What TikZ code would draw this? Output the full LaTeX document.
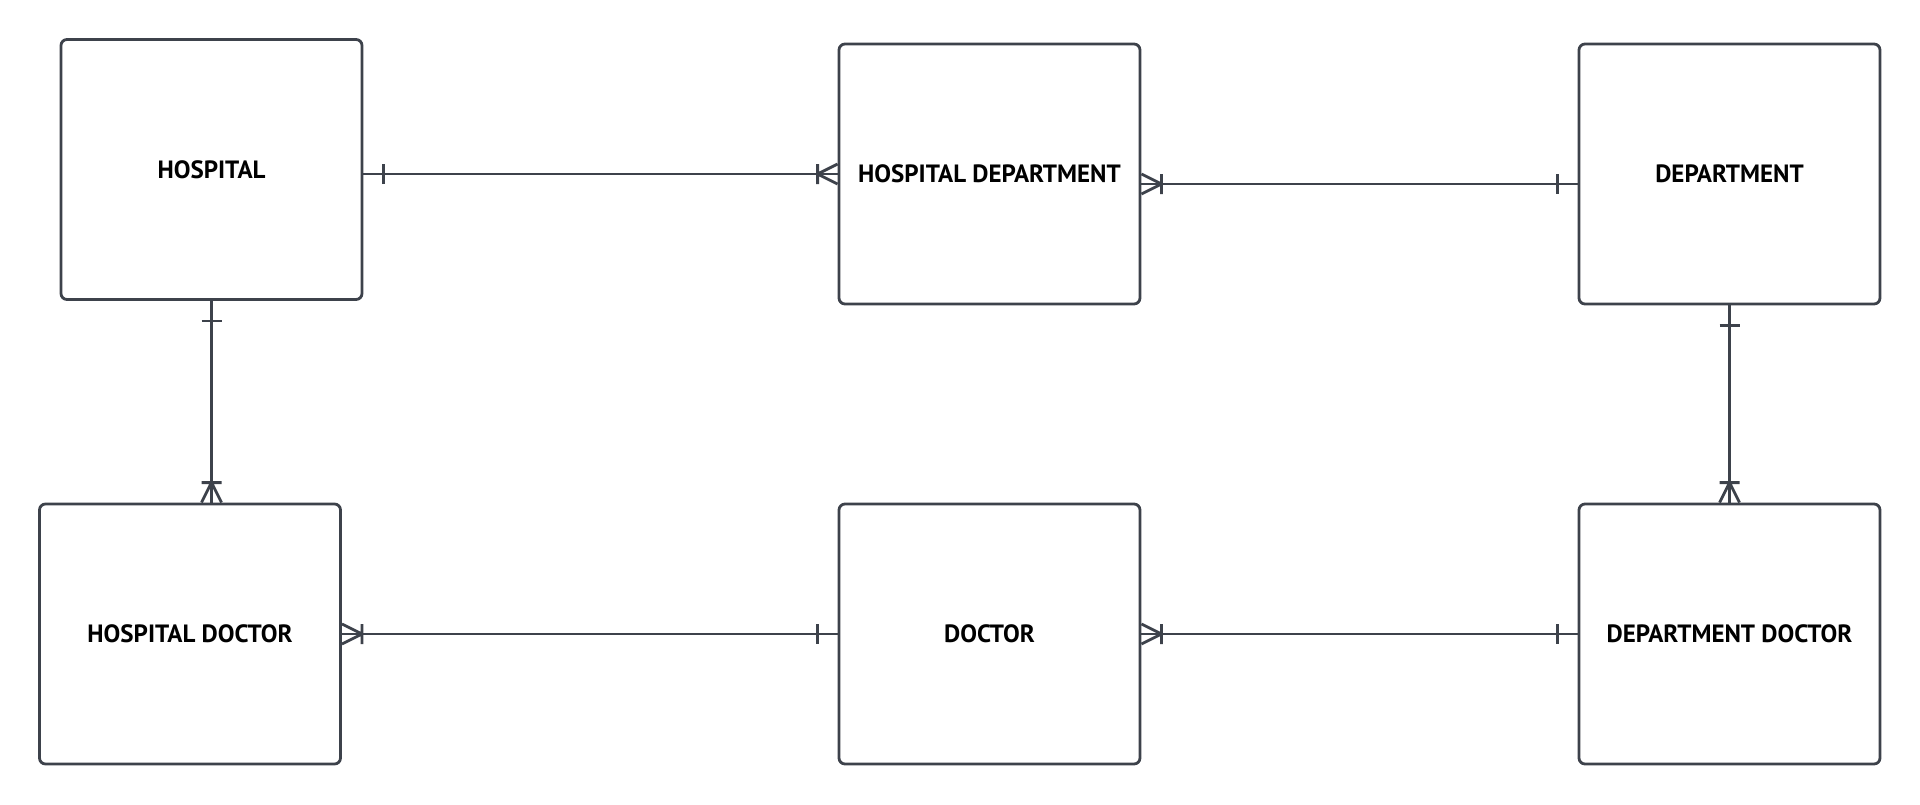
\documentclass[tikz,border=0pt]{standalone}
\usepackage{fontspec}
\newfontfamily\entfont{PT Sans}
\usetikzlibrary{positioning,decorations.markings}
\definecolor{edgegray}{RGB}{61,66,75}
\tikzset{
  entity/.style={draw=edgegray, line width=2.8pt, rounded corners=6pt,
    minimum width=301pt, minimum height=260pt,
    font=\entfont\bfseries\fontsize{25}{30}\selectfont},
  onemany/.style={draw=edgegray, line width=2.8pt,
    postaction={decorate, decoration={markings,
      mark=at position 20pt with {\draw[edgegray, line width=2.8pt] (0,-10pt) -- (0,10pt);},
      mark=at position 1 with {\draw[edgegray, line width=2.8pt] (0,10pt) -- (-20pt,0) -- (0,-10pt) (-20pt,-10pt) -- (-20pt,10pt);}}}}
}
\begin{document}
\begin{tikzpicture}[node distance=460pt,on grid]
  \useasboundingbox (0,0) rectangle (1920pt,-804pt);
  \node[entity] (hd) at (989.5pt,-174pt) {HOSPITAL DEPARTMENT};
  \node[entity] (hosp) [left=778pt of hd,yshift=4.5pt] {HOSPITAL};
  \node[entity] (dept) [right=740pt of hd] {DEPARTMENT};
  \node[entity] (doc) [below=of hd] {DOCTOR};
  \node[entity] (hdoc) [left=799.5pt of doc] {HOSPITAL DOCTOR};
  \node[entity] (ddoc) [below=of dept] {DEPARTMENT DOCTOR};
  \draw[onemany] (hosp.east |- hd.west) -- (hd.west);
  \draw[onemany] ([yshift=-10pt]dept.west) -- ([yshift=-10pt]hd.east);
  \draw[onemany] (hosp.south) -- (hosp.south |- hdoc.north);
  \draw[onemany] (doc.west) -- (hdoc.east |- doc.west);
  \draw[onemany] (ddoc.west) -- (doc.east);
  \draw[onemany] (dept.south) -- (ddoc.north);
\end{tikzpicture}
\end{document}
